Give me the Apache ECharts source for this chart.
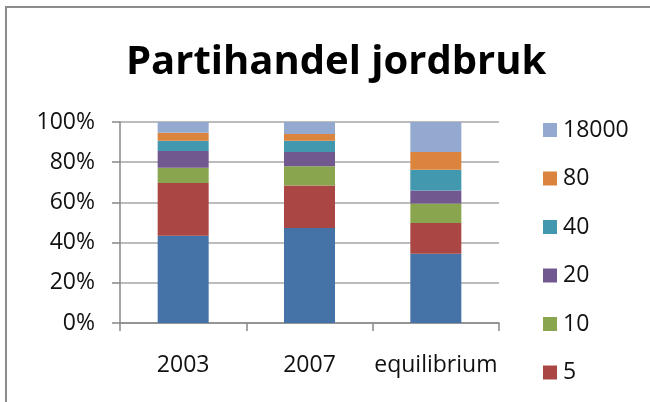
<!DOCTYPE html>
<html>
<head>
<meta charset="utf-8">
<script src="https://cdn.jsdelivr.net/npm/echarts@6/dist/echarts.min.js"></script>
<style>
  html, body { margin: 0; padding: 0; background: #fff; }
  #chart { width: 650px; height: 402px; }
</style>
</head>
<body>
<div id="chart"></div>
<script>
// Partihandel jordbruk, 100% staplad stapel
const categories = ['2003', '2007', 'equilibrium']
const seriesNames = ['2', '5', '10', '20', '40', '80', '18000']
const legendNames = ['18000', '80', '40', '20', '10', '5']
const yTicks = [0, 20, 40, 60, 80, 100]

// andelar i procent, nerifrån och upp
const s2 = [43.4, 47.3, 34.4]
const s5 = [26.3, 21.1, 15.4]
const s10 = [7.5, 9.6, 9.6]
const s20 = [8.4, 7.1, 6.5]
const s40 = [5.1, 5.6, 10.3]
const s80 = [4.0, 3.3, 8.9]
const s18000 = [5.3, 6.0, 14.9]

const values = [s2, s5, s10, s20, s40, s80, s18000]
const colors = ['#4572A7', '#AA4643', '#89A54E', '#71588F', '#4198AF', '#DB843D', '#93A9CF']

const font = '"Open Sans", sans-serif'
const chart = echarts.init(document.getElementById('chart'))

chart.setOption({
  animation: false,
  backgroundColor: '#fff',
  textStyle: { fontFamily: font, color: '#111' },
  title: {
    text: 'Partihandel jordbruk',
    left: 126,
    top: 43,
    padding: 0,
    textStyle: { fontFamily: font, fontSize: 40, fontWeight: 'bold', color: '#000' },
  },
  legend: {
    orient: 'vertical',
    left: 543,
    top: 118,
    padding: 0,
    itemWidth: 14,
    itemHeight: 14,
    itemGap: 24.5,
    icon: 'rect',
    data: legendNames,
    textStyle: { fontFamily: font, fontSize: 23, lineHeight: 24, color: '#111', padding: [0, 0, 0, 1] },
  },
  grid: { left: 120, right: 151, top: 122, bottom: 79 },
  xAxis: {
    type: 'category',
    data: categories,
    axisLine: { lineStyle: { color: '#888', width: 1.5 } },
    axisTick: { show: true, length: 8, lineStyle: { color: '#888', width: 1.5 } },
    axisLabel: { interval: 0, hideOverlap: false, margin: 31, fontSize: 23, color: '#111', fontFamily: font },
  },
  yAxis: {
    type: 'value',
    min: 0,
    max: 100,
    interval: 20,
    axisLine: { show: true, lineStyle: { color: '#888', width: 1.5 } },
    axisTick: { show: true, length: 8, lineStyle: { color: '#888', width: 1.5 } },
    axisLabel: {
      margin: 25,
      fontSize: 23,
      color: '#111',
      fontFamily: font,
      formatter: (v) => (yTicks.includes(v) ? v + '%' : ''),
    },
    splitLine: { lineStyle: { color: '#a6a6a6', width: 1.5 } },
  },
  series: seriesNames.map((name, i) => ({
    name,
    type: 'bar',
    stack: 'total',
    barWidth: 51,
    data: values[i],
    itemStyle: { color: colors[i] },
  })),
  graphic: [
    {
      type: 'rect',
      shape: { x: 6, y: 7, width: 700, height: 500 },
      style: { fill: 'none', stroke: '#8c8c8c', lineWidth: 2 },
      silent: true,
    },
  ],
})
</script>
</body>
</html>
